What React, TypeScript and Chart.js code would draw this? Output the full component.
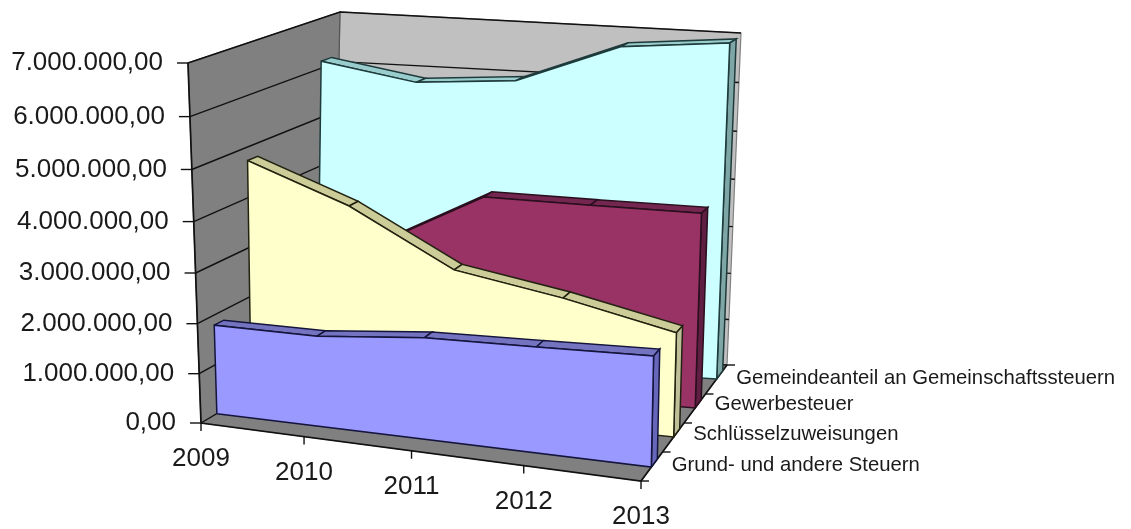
import React, { useEffect, useRef } from "react";
import { Chart, registerables } from "chart.js";

Chart.register(...registerables);

const years = ["2009", "2010", "2011", "2012", "2013"];
const seriesNames = ["Grund- und andere Steuern", "Schlüsselzuweisungen", "Gewerbesteuer", "Gemeindeanteil an Gemeinschaftssteuern"];
const grund = [1800000, 1800000, 1990000, 2040000, 2100000];
const schluessel = [4735000, 3990000, 2900000, 2530000, 2050000];
const gewerbe = [2380000, 2910000, 3970000, 3950000, 3940000];
const gemeinde = [6140000, 5820000, 5960000, 6750000, 6940000];
const yTicks = [0, 1000000, 2000000, 3000000, 4000000, 5000000, 6000000, 7000000];
const yTickLabels = ["0,00", "1.000.000,00", "2.000.000,00", "3.000.000,00", "4.000.000,00", "5.000.000,00", "6.000.000,00", "7.000.000,00"];

const Y_MAX = 7000000;
const THICK = 0.07;
type Pt = { x: number; y: number };
const floorCorners = { fl: [201, 423], fr: [641, 481], bl: [333, 345], br: [727, 365] };
const topCorners = { fl: [188, 63], fr: [648, 91], bl: [340, 12], br: [741, 33] };
const labelNudge = [2, 0, -1, 2];
const persp = (t: number, k: number) => t / (t + k * (1 - t));
const bil = (c: any, f: number, z: number, i: number) =>
  (c.fl[i] * (1 - f) + c.fr[i] * f) * (1 - z) + (c.bl[i] * (1 - f) + c.br[i] * f) * z;
function project(yearIdx: number, value: number, z: number): Pt {
  const f = persp(yearIdx / (years.length - 1), 1.09);
  const g = persp(value / Y_MAX, 1.05);
  return {
    x: bil(floorCorners, f, z, 0) * (1 - g) + bil(topCorners, f, z, 0) * g,
    y: bil(floorCorners, f, z, 1) * (1 - g) + bil(topCorners, f, z, 1) * g,
  };
}

function poly(points: Pt[], fill: string | null, stroke: string, width = 1) {
  const closed = fill ? [...points, points[0]] : points;
  return {
    type: "scatter" as const,
    data: closed,
    showLine: true,
    pointRadius: 0,
    borderColor: stroke,
    borderWidth: width,
    backgroundColor: fill || "transparent",
    fill: fill ? "shape" : false,
    tension: 0,
    clip: false,
  };
}

function buildDatasets() {
  const ds: any[] = [];
  const last = years.length - 1;
  // walls and floor
  ds.push(poly([project(0, 0, 1), project(0, Y_MAX, 1), project(last, Y_MAX, 1), project(last, 0, 1)], "#C0C0C0", "#808080", 1.2));
  ds.push(poly([project(0, 0, 0), project(0, Y_MAX, 0), project(0, Y_MAX, 1), project(0, 0, 1)], "#808080", "#555555", 1.2));
  ds.push(poly([project(0, 0, 0), project(last, 0, 0), project(last, 0, 1), project(0, 0, 1)], "#808080", "#808080"));
  // gridlines
  yTicks.forEach((v) => {
    ds.push(poly([project(0, v, 0), project(0, v, 1), project(last, v, 1)], null, "#111111", 1.4));
    const p = project(0, v, 0);
    ds.push(poly([{ x: p.x - 11, y: p.y }, p], null, "#111111", 1.4));
  });
  // axis lines
  ds.push(poly([project(0, Y_MAX, 0), project(0, 0, 0), project(last, 0, 0), project(last, 0, 1)], null, "#111111", 1.7));
  years.forEach((_, i) => {
    const p = project(i, 0, 0);
    ds.push(poly([p, { x: p.x, y: p.y + 8 }], null, "#111111", 1.4));
  });
  [0, 0.25, 0.5, 0.75, 1].forEach((z) => {
    const p = project(last, 0, z);
    ds.push(poly([p, { x: p.x + 8, y: p.y }], null, "#111111", 1.4));
  });
  // series back to front
  const series = [
    { v: gemeinde, z: 0.88, face: "#CCFFFF", top: "#99CCCC", side: "#7FA6A6", line: "#1E3A3A" },
    { v: gewerbe, z: 0.63, face: "#993366", top: "#732650", side: "#5E1F42", line: "#2A0F1E" },
    { v: schluessel, z: 0.38, face: "#FFFFCC", top: "#CCCC99", side: "#BFBF99", line: "#222211" },
    { v: grund, z: 0.12, face: "#9999FF", top: "#7373BF", side: "#6666BB", line: "#14143C" },
  ];
  series.forEach((s) => {
    const z0 = s.z;
    const z1 = s.z + THICK;
    for (let i = 0; i < last; i++) {
      ds.push(poly([project(i, s.v[i], z0), project(i + 1, s.v[i + 1], z0), project(i + 1, s.v[i + 1], z1), project(i, s.v[i], z1)], s.top, s.line, 1.5));
    }
    ds.push(poly([project(last, 0, z0), project(last, s.v[last], z0), project(last, s.v[last], z1), project(last, 0, z1)], s.side, s.line, 1.5));
    const face = [project(0, 0, z0), ...s.v.map((v, i) => project(i, v, z0)), project(last, 0, z0)];
    ds.push(poly(face, s.face, s.line, 1.5));
  });
  // Chart.js paints the first dataset last, so hand them over front to back
  return ds.reverse();
}

const textPlugin = {
  id: "axisText",
  afterDatasetsDraw(chart: any) {
    const ctx = chart.ctx;
    const last = years.length - 1;
    ctx.save();
    ctx.fillStyle = "#1a1a1a";
    ctx.textBaseline = "middle";
    ctx.font = '26px "Liberation Sans"';
    ctx.textAlign = "right";
    yTicks.forEach((v, i) => {
      const p = project(0, v, 0);
      ctx.fillText(yTickLabels[i], p.x - 25, p.y);
    });
    ctx.textAlign = "center";
    years.forEach((y, i) => {
      const p = project(i, 0, 0);
      ctx.fillText(y, p.x, p.y + 36);
    });
    ctx.textAlign = "left";
    ctx.font = '20.3px "Liberation Sans"';
    seriesNames.forEach((n, i) => {
      const p = project(last, 0, 0.125 + 0.25 * i);
      ctx.fillText(n, p.x + 20, p.y - 3 + labelNudge[i]);
    });
    ctx.restore();
  },
};

export default function App() {
  const ref = useRef<HTMLCanvasElement>(null);
  useEffect(() => {
    document.body.style.margin = "0";
    const chart = new Chart(ref.current!, {
      type: "scatter",
      data: { datasets: buildDatasets() },
      options: {
        animation: false,
        responsive: false,
        layout: { padding: 0 },
        plugins: { legend: { display: false }, tooltip: { enabled: false } },
        scales: {
          x: { type: "linear", min: 0, max: 1131, display: false },
          y: { type: "linear", min: 0, max: 529, reverse: true, display: false },
        },
      },
      plugins: [textPlugin],
    } as any);
    return () => chart.destroy();
  }, []);
  return <canvas ref={ref} width={1131} height={529} style={{ display: "block", filter: "blur(0.4px)" }} />;
}
